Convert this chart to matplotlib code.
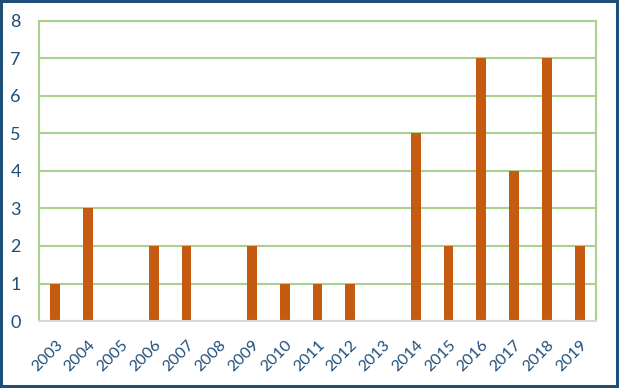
import matplotlib.pyplot as plt
import numpy as np

years = ['2003', '2004', '2005', '2006', '2007', '2008', '2009', '2010', '2011',
         '2012', '2013', '2014', '2015', '2016', '2017', '2018', '2019']
counts = [1, 3, 0, 2, 2, 0, 2, 1, 1, 1, 0, 5, 2, 7, 4, 7, 2]

plt.rcParams['font.family'] = ['Lato', 'DejaVu Sans']
txt = '#1F4E79'
fig = plt.figure(figsize=(6.19, 3.88), dpi=100)
fig.patch.set_edgecolor(txt)
fig.patch.set_linewidth(3)
ax = fig.add_axes([39/619, 1 - 321/388, 557/619, 300/388])

x = np.arange(len(years))
ax.bar(x, counts, width=0.3, color='#C55A11', zorder=3)
ax.set_xlim(-0.5, len(years) - 0.5)
ax.set_ylim(0, 8)
ax.set_yticks(range(9))
ax.grid(axis='y', color='#A9D18E', linewidth=1.5, zorder=0)
for s in ['top', 'right', 'left']:
    ax.spines[s].set_color('#A9D18E')
    ax.spines[s].set_linewidth(1.5)
ax.spines['bottom'].set_color('#D9D9D9')
ax.spines['bottom'].set_linewidth(1.5)
ax.spines['bottom'].set_zorder(4)

ax.set_xticks(x)
ax.set_xticklabels(years, rotation=45, ha='right', rotation_mode='anchor')
ax.tick_params(axis='y', length=0, labelsize=13, labelcolor=txt, pad=13)
ax.tick_params(axis='x', length=0, labelsize=11.5, labelcolor=txt, pad=12)

plt.savefig('out.png', dpi=100)
